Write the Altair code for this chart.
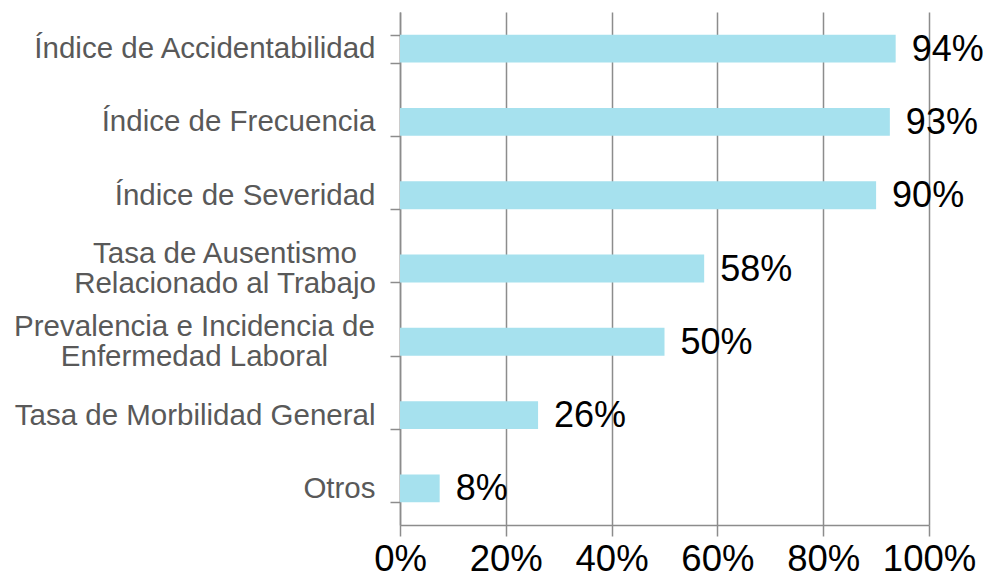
import altair as alt
import pandas as pd

categories = [
    "Índice de Accidentabilidad",
    "Índice de Frecuencia",
    "Índice de Severidad",
    "Tasa de Ausentismo \nRelacionado al Trabajo",
    "Prevalencia e Incidencia de\nEnfermedad Laboral",
    "Tasa de Morbilidad General",
    "Otros",
]
values = [0.937, 0.926, 0.900, 0.575, 0.500, 0.261, 0.075]
value_labels = ["94%", "93%", "90%", "58%", "50%", "26%", "8%"]
x_ticks = [0, 0.2, 0.4, 0.6, 0.8, 1.0]

df = pd.DataFrame({"cat": categories, "value": values, "label": value_labels})

GRAY = "#8C8C8C"
LABEL_GRAY = "#595959"
FONT = "Liberation Sans"

y_enc = alt.Y(
    "cat:N",
    sort=None,
    title=None,
    scale=alt.Scale(paddingInner=0.62, paddingOuter=0.31),
    axis=alt.Axis(
        labelExpr="indexof(datum.label, '\\n') >= 0 ? '' : datum.label",
        labelFont=FONT,
        labelFontSize=29.5,
        labelColor=LABEL_GRAY,
        labelPadding=15,
        labelLimit=400,
        tickBand="extent",
        tickSize=10,
        tickColor=GRAY,
        tickWidth=1.5,
        domainColor=GRAY,
        domainWidth=1.5,
        grid=False,
    ),
)

x_enc = alt.X(
    "value:Q",
    title=None,
    scale=alt.Scale(domain=[0, 1]),
    axis=alt.Axis(
        values=x_ticks,
        format=".0%",
        labelFont=FONT,
        labelFontSize=36.5,
        labelColor="black",
        labelPadding=5,
        tickSize=11,
        tickColor=GRAY,
        tickWidth=1.5,
        domainColor=GRAY,
        domainWidth=1.5,
        grid=True,
        gridColor=GRAY,
        gridWidth=1.5,
        labelFlush=False,
    ),
)

base = alt.Chart(df).encode(y=y_enc)

bars = base.mark_bar(color="#A6E1EE").encode(x=x_enc)

text = base.mark_text(
    align="left", baseline="middle", dx=16, dy=1, font=FONT, fontSize=36, color="black"
).encode(x=alt.X("value:Q"), text="label:N")

def multiline_label(prefix, xpos):
    return (
        base.mark_text(
            align="center",
            baseline="middle",
            dy=-15,
            font=FONT,
            fontSize=29.5,
            color=LABEL_GRAY,
            lineBreak="\n",
            lineHeight=30,
        )
        .encode(x=alt.value(xpos), text="cat:N")
        .transform_filter(f"indexof(datum.cat, '{prefix}') == 0")
    )

lab_tasa = multiline_label("Tasa de Ausentismo", -175)
lab_prev = multiline_label("Prevalencia", -205.5)

chart = (
    alt.layer(bars, text, lab_tasa, lab_prev)
    .properties(
        width=529,
        height=513,
        autosize="none",
        padding={"left": 392, "top": 4, "right": 54, "bottom": 53},
        background="white",
    )
    .configure_view(stroke=None)
)

chart.save("out.html", embed_options={"renderer": "svg", "actions": False})
